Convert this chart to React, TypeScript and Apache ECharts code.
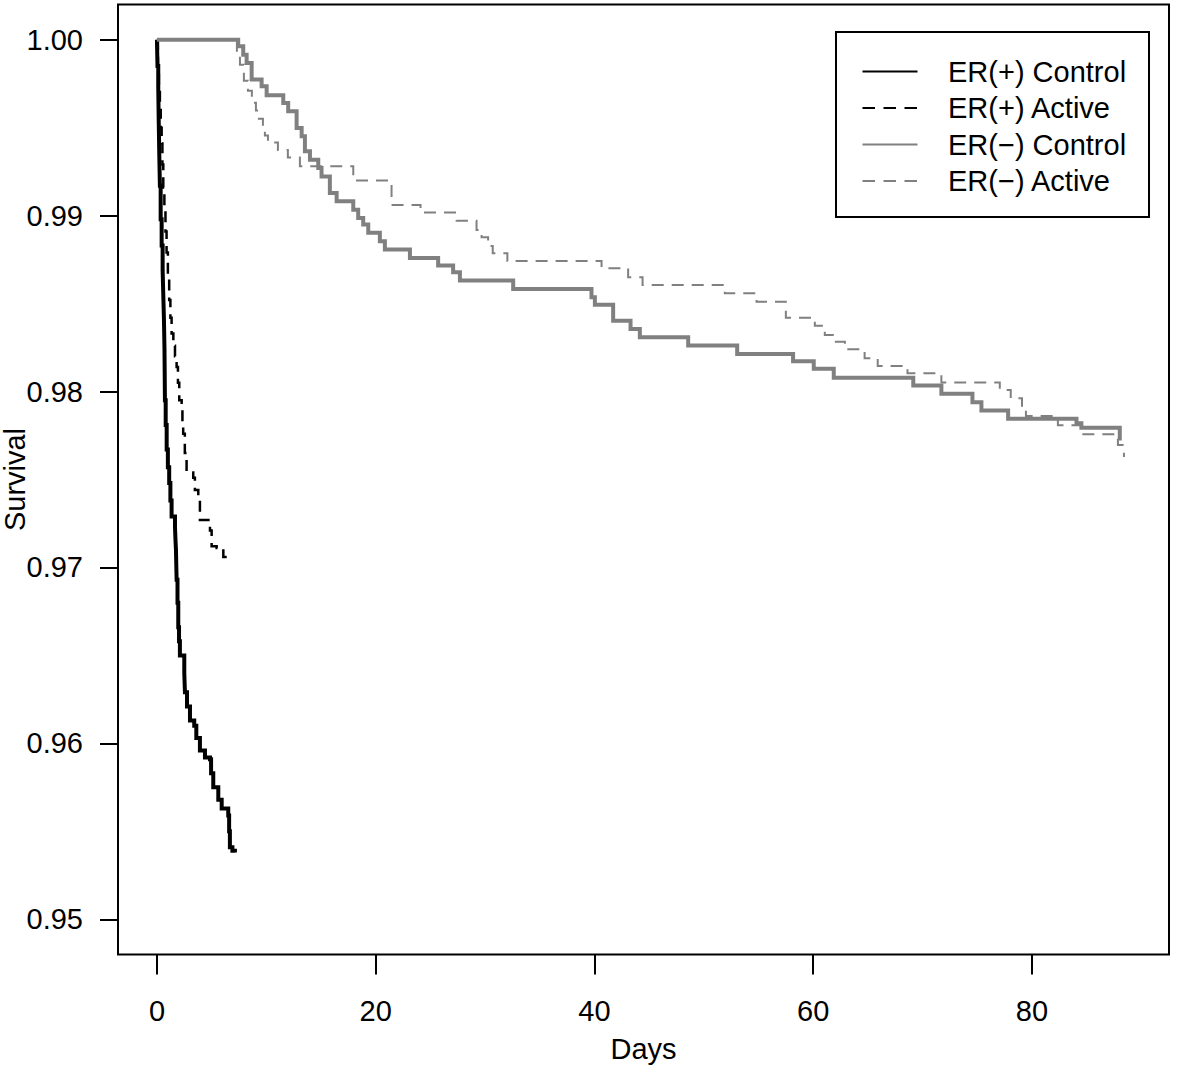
import React, { useEffect, useRef } from "react";
import * as echarts from "echarts";

// Tick values
const xTicks = [0, 20, 40, 60, 80];
const yTicks = [0.95, 0.96, 0.97, 0.98, 0.99, 1.0];

// Legend labels
const seriesNames = ["ER(+) Control", "ER(+) Active", "ER(\u2212) Control", "ER(\u2212) Active"];

// Kaplan-Meier step data: [day, survival]
const erPosControl: number[][] = [
  [0, 1.0], [0.05, 0.9985], [0.12, 0.9973], [0.16, 0.9955], [0.21, 0.9936], [0.27, 0.9917],
  [0.34, 0.9898], [0.43, 0.9883], [0.52, 0.9869], [0.58, 0.9855], [0.64, 0.9841], [0.69, 0.9824],
  [0.71, 0.981], [0.73, 0.9795], [0.8, 0.9781], [0.89, 0.9767], [1.0, 0.9757], [1.12, 0.9748],
  [1.23, 0.9738], [1.34, 0.9729], [1.65, 0.9723], [1.7, 0.9715], [1.74, 0.971], [1.77, 0.9701],
  [1.8, 0.9693], [1.88, 0.968], [1.95, 0.9666], [2.02, 0.9658], [2.1, 0.965], [2.5, 0.964],
  [2.56, 0.9629], [2.75, 0.9621], [3.02, 0.9613], [3.41, 0.961], [3.6, 0.9603], [3.93, 0.9596],
  [4.39, 0.9592], [4.85, 0.9591], [4.95, 0.9583], [5.15, 0.9575], [5.61, 0.9568], [5.92, 0.9563],
  [6.52, 0.9559], [6.6, 0.955], [6.67, 0.9541], [6.9, 0.9539], [7.13, 0.9538],
];

const erPosActive: number[][] = [
  [0, 1.0], [0.09, 0.9983], [0.18, 0.9971], [0.27, 0.996], [0.35, 0.995], [0.43, 0.9941],
  [0.5, 0.9929], [0.58, 0.9916], [0.68, 0.9903], [0.78, 0.9891], [0.88, 0.9879], [1.0, 0.9865],
  [1.12, 0.9852], [1.23, 0.9842], [1.34, 0.9833], [1.5, 0.9826], [1.65, 0.982], [1.8, 0.9814],
  [1.92, 0.9805], [2.04, 0.9795], [2.26, 0.979], [2.33, 0.9783], [2.4, 0.9776], [2.55, 0.9765],
  [2.71, 0.9754], [3.32, 0.9751], [3.47, 0.9744], [3.78, 0.9738], [3.93, 0.9727], [4.85, 0.9721],
  [5.0, 0.9712], [5.46, 0.9711], [6.07, 0.9706], [6.52, 0.9706],
];

const erNegControl: number[][] = [
  [0, 1.0], [7.43, 0.99962], [7.89, 0.99915], [8.2, 0.99867], [8.66, 0.99773], [9.57, 0.99735],
  [10.03, 0.99684], [11.55, 0.9964], [12.0, 0.99593], [12.77, 0.99498], [13.23, 0.99451],
  [13.53, 0.99366], [13.99, 0.99318], [14.75, 0.99271], [15.05, 0.99223], [15.81, 0.99129],
  [16.43, 0.99081], [17.95, 0.99034], [18.4, 0.98987], [18.86, 0.98949], [19.32, 0.98902],
  [20.38, 0.98854], [20.84, 0.98807], [23.13, 0.98759], [25.71, 0.98716], [27.08, 0.98678],
  [27.7, 0.98631], [32.57, 0.98583], [39.73, 0.98536], [40.04, 0.98494], [41.71, 0.98403],
  [43.3, 0.98356], [44.15, 0.98309], [48.57, 0.98261], [53.05, 0.98214], [58.16, 0.98172],
  [60.05, 0.98129], [61.88, 0.98078], [69.15, 0.98034], [71.72, 0.97987], [74.56, 0.97939],
  [75.38, 0.97892], [77.82, 0.97845], [84.07, 0.9782], [84.52, 0.97794], [88.03, 0.97722],
];

const erNegActive: number[][] = [
  [0, 1.0], [7.31, 0.99909], [7.59, 0.99858], [7.95, 0.99767], [8.32, 0.9971], [8.68, 0.99642],
  [9.05, 0.99597], [9.32, 0.99551], [9.69, 0.99511], [9.87, 0.99455], [10.15, 0.99416],
  [11.06, 0.99373], [11.97, 0.9933], [13.07, 0.9928], [17.95, 0.99199], [21.45, 0.9906],
  [24.1, 0.99017], [27.4, 0.98971], [29.22, 0.98918], [29.68, 0.98877], [30.28, 0.98827],
  [30.7, 0.98786], [32.04, 0.98742], [40.65, 0.98701], [43.08, 0.98649], [44.4, 0.98606],
  [51.92, 0.98558], [54.82, 0.98511], [57.5, 0.9842], [60.15, 0.98374], [61.06, 0.98321],
  [61.8, 0.98283], [62.9, 0.9824], [64.7, 0.98189], [65.9, 0.98145], [68.62, 0.98104],
  [71.72, 0.98052], [77.06, 0.98009], [78.06, 0.97962], [79.09, 0.97895], [79.45, 0.97861],
  [82.37, 0.97809], [84.5, 0.97757], [87.86, 0.97696], [88.41, 0.97633], [88.5, 0.97633],
];

const FONT = "'Liberation Sans', Arial, Helvetica, sans-serif";
const GRAY = "#808080";

export default function App() {
  const ref = useRef<HTMLDivElement>(null);

  useEffect(() => {
    if (!ref.current) return;
    const chart = echarts.init(ref.current, null, { renderer: "svg" });

    const styles = [
      { color: "#000", width: 4, type: "solid" as any },
      { color: "#000", width: 2.5, type: [11, 7] as any },
      { color: GRAY, width: 4, type: "solid" as any },
      { color: GRAY, width: 2, type: [12, 8] as any },
    ];
    const datasets = [erPosControl, erPosActive, erNegControl, erNegActive];

    const rowsY = [71.5, 108, 144.5, 181];
    const legendGraphics: any[] = [
      {
        type: "rect",
        shape: { x: 836, y: 32, width: 313, height: 185 },
        style: { fill: "#fff", stroke: "#000", lineWidth: 2 },
        z: 100,
      },
    ];
    seriesNames.forEach((name, i) => {
      const st = styles[i];
      legendGraphics.push({
        type: "line",
        shape: { x1: 862.5, y1: rowsY[i], x2: 917.5, y2: rowsY[i] },
        style: {
          stroke: st.color,
          lineWidth: 2,
          lineDash: st.type === "solid" ? null : [12.5, 8.5],
        },
        z: 101,
      });
      legendGraphics.push({
        type: "text",
        x: 948,
        y: rowsY[i],
        style: {
          text: name,
          fill: "#000",
          font: `29px ${FONT}`,
          textVerticalAlign: "middle",
          verticalAlign: "middle",
        },
        z: 101,
      });
    });

    chart.setOption({
      animation: false,
      backgroundColor: "#fff",
      grid: {
        left: 118,
        top: 4.5,
        width: 1051,
        height: 950,
        show: true,
        borderColor: "#000",
        borderWidth: 2,
        backgroundColor: "transparent",
        containLabel: false,
        outerBoundsMode: "none",
      },
      xAxis: {
        type: "value",
        min: -3.56,
        max: 92.53,
        axisLine: { show: false, onZero: false },
        splitLine: { show: false },
        axisTick: {
          show: true,
          length: 20,
          customValues: xTicks,
          lineStyle: { color: "#000", width: 2 },
        },
        axisLabel: {
          customValues: xTicks,
          margin: 42,
          fontSize: 29,
          color: "#000",
          fontFamily: FONT,
        },
        name: "Days",
        nameLocation: "middle",
        nameGap: 80,
        nameMoveOverlap: false,
        nameTextStyle: { fontSize: 29, color: "#000", fontFamily: FONT },
      },
      yAxis: {
        type: "value",
        min: 0.948,
        max: 1.002,
        axisLine: { show: false, onZero: false },
        splitLine: { show: false },
        axisTick: {
          show: true,
          length: 18,
          customValues: yTicks,
          lineStyle: { color: "#000", width: 2 },
        },
        axisLabel: {
          customValues: yTicks,
          margin: 35,
          fontSize: 29,
          color: "#000",
          fontFamily: FONT,
          formatter: (v: number) => v.toFixed(2),
        },
        name: "Survival",
        nameLocation: "middle",
        nameGap: 89,
        nameMoveOverlap: false,
        nameTextStyle: { fontSize: 29, lineHeight: 29, color: "#000", fontFamily: FONT },
      },
      series: datasets.map((d, i) => ({
        name: seriesNames[i],
        type: "line",
        step: "end",
        data: d,
        showSymbol: false,
        symbol: "none",
        lineStyle: {
          color: styles[i].color,
          width: styles[i].width,
          type: styles[i].type,
          cap: "butt",
          join: "miter",
        },
        itemStyle: { color: styles[i].color },
        z: 2 + i,
      })),
      graphic: legendGraphics,
    });

    return () => chart.dispose();
  }, []);

  return (
    <div
      ref={ref}
      style={{ position: "absolute", left: 0, top: 0, width: 1183, height: 1068, background: "#fff" }}
    />
  );
}
